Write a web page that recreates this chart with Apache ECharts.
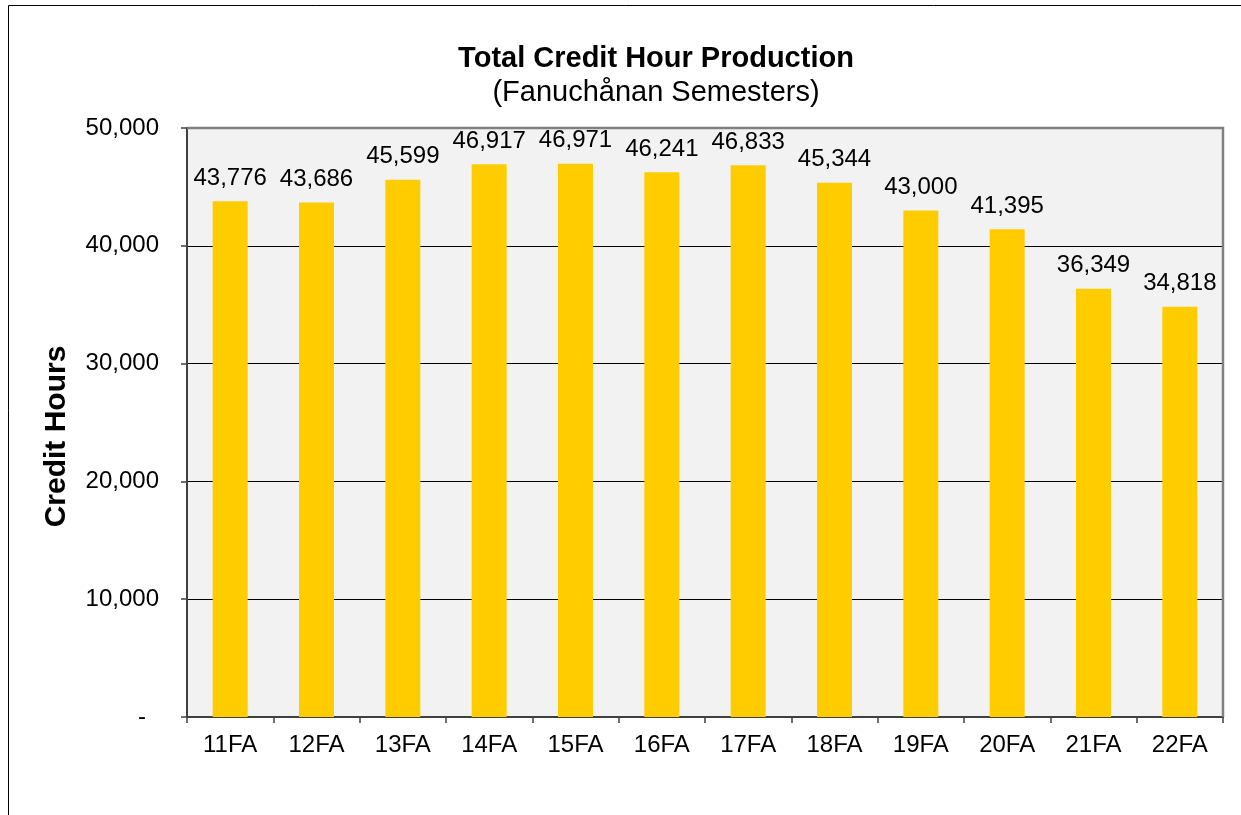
<!DOCTYPE html>
<html>
<head>
<meta charset="utf-8">
<script src="https://cdn.jsdelivr.net/npm/echarts@6/dist/echarts.min.js"></script>
<style>
  html, body { margin: 0; padding: 0; background: #fff; }
  #chart { width: 1241px; height: 815px; }
</style>
</head>
<body>
<div id="chart"></div>
<script>
const semesters = ['11FA', '12FA', '13FA', '14FA', '15FA', '16FA', '17FA', '18FA', '19FA', '20FA', '21FA', '22FA'];
const creditHours = [43776, 43686, 45599, 46917, 46971, 46241, 46833, 45344, 43000, 41395, 36349, 34818];
const yTicks = [0, 10000, 20000, 30000, 40000, 50000];

const font = '"Liberation Sans", Arial, sans-serif';
const fmt = (v) => v.toLocaleString('en-US');
// accounting style: zero shows as a dash, set in a bit from the right
const yFmt = (v) => v === 0 ? '{dash|-}' : fmt(v);

const chart = echarts.init(document.getElementById('chart'));
chart.setOption({
  animation: false,
  textStyle: {fontFamily: font},
  title: {
    text: 'Total Credit Hour Production',
    subtext: '(Fanuchånan Semesters)',
    left: 651,
    textAlign: 'center',
    top: 39,
    itemGap: 5,
    textStyle: {fontFamily: font, fontSize: 29, fontWeight: 'bold', color: '#000'},
    subtextStyle: {fontFamily: font, fontSize: 29, color: '#000'}
  },
  graphic: [
    {
      type: 'rect',
      shape: {x: 8.5, y: 5.5, width: 1300, height: 900},
      style: {fill: 'none', stroke: '#000', lineWidth: 1}
    },
    {
      type: 'polyline',
      shape: {points: [[187, 128], [1223, 128], [1223, 717]]},
      style: {stroke: '#808080', lineWidth: 2.5, fill: 'none'},
      z: 10
    }
  ],
  grid: {left: 187, top: 128, width: 1036, height: 589, backgroundColor: '#F2F2F2', show: true, borderWidth: 0},
  xAxis: {
    type: 'category',
    data: semesters,
    axisLine: {lineStyle: {color: '#404040', width: 2}},
    axisTick: {show: true, length: 6, lineStyle: {color: '#404040', width: 1.5}},
    axisLabel: {color: '#000', fontSize: 24, margin: 16, fontFamily: font}
  },
  yAxis: {
    type: 'value',
    min: yTicks[0],
    max: yTicks[yTicks.length - 1],
    interval: 10000,
    name: 'Credit Hours',
    nameLocation: 'middle',
    nameGap: 115,
    nameTextStyle: {fontSize: 30, fontWeight: 'bold', color: '#000', fontFamily: font, padding: [0, 28, 0, 0]},
    axisLine: {show: true, lineStyle: {color: '#404040', width: 2}},
    axisTick: {show: true, length: 6, lineStyle: {color: '#404040', width: 1.5}},
    axisLabel: {
      color: '#000', fontSize: 24, margin: 28, fontFamily: font, formatter: yFmt,
      rich: {dash: {color: '#000', fontSize: 24, fontFamily: font, padding: [0, 13, 0, 0]}}
    },
    splitLine: {lineStyle: {color: '#000', width: 1}}
  },
  series: [{
    type: 'bar',
    data: creditHours,
    barWidth: 35,
    itemStyle: {color: '#FFCC00'},
    label: {
      show: true,
      position: 'top',
      distance: 11,
      color: '#000',
      fontSize: 24,
      fontFamily: font,
      formatter: (p) => fmt(p.value)
    }
  }]
});
</script>
</body>
</html>
